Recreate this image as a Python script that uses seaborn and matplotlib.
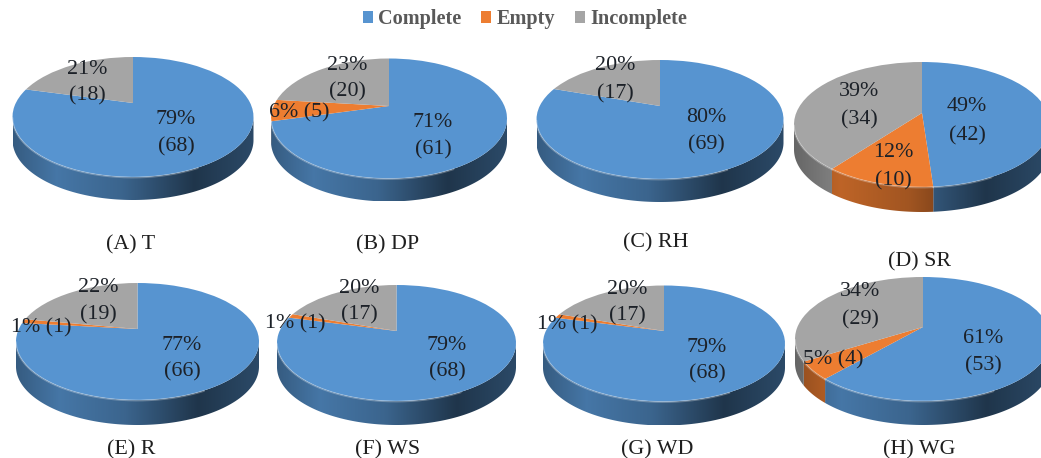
import numpy as np
import matplotlib
matplotlib.use("Agg")
import matplotlib.pyplot as plt
import matplotlib.transforms as mtransforms
from matplotlib.patches import Patch, Polygon
import seaborn as sns

# Counts of stations per data-quality class for each meteorological variable
status_labels = ["Complete", "Empty", "Incomplete"]
panel_names = ["(A) T", "(B) DP", "(C) RH", "(D) SR", "(E) R", "(F) WS", "(G) WD", "(H) WG"]
counts_t = [68, 0, 18]
counts_dp = [61, 5, 20]
counts_rh = [69, 0, 17]
counts_sr = [42, 10, 34]
counts_r = [66, 1, 19]
counts_ws = [68, 1, 17]
counts_wd = [68, 1, 17]
counts_wg = [53, 4, 29]
percents_t = [79, 0, 21]
percents_dp = [71, 6, 23]
percents_rh = [80, 0, 20]
percents_sr = [49, 12, 39]
percents_r = [77, 1, 22]
percents_ws = [79, 1, 20]
percents_wd = [79, 1, 20]
percents_wg = [61, 5, 34]

W_PX, H_PX = 1041, 458
SERIF = "Liberation Serif"
TEXT_DROP = 2.5
sns.set_theme(style="white")
plt.rcParams["font.family"] = [SERIF, "DejaVu Serif"]
palette = sns.color_palette(["#5794D0", "#ED7D31", "#A5A5A5"])


class Tilt(mtransforms.Transform):
    """Perspective view of a unit disc seen from above, in pixel offsets."""
    input_dims = 2
    output_dims = 2
    is_separable = False
    has_inverse = False

    def __init__(self, semi_w, semi_h, apex_rise):
        super().__init__()
        self.k = apex_rise / semi_h
        self.a = semi_w * np.sqrt(1 - self.k ** 2)
        self.b = semi_h
        self.c = apex_rise

    def transform_non_affine(self, xy):
        xy = np.asarray(xy, dtype=float)
        w = 1 + self.k * xy[..., 1]
        out = np.empty_like(xy)
        out[..., 0] = self.a * xy[..., 0] / w
        out[..., 1] = (self.b * xy[..., 1] + self.c) / w
        return out


def wall_shade(t):
    """Brightness of the pie's side wall across its width (t from 0 to 1)."""
    return np.interp(t, [0, 0.18, 0.45, 0.75, 1], [0.62, 0.80, 0.68, 0.36, 0.50])


def draw_pie(fig, counts, geom, texts, caption):
    cx, cy, semi_w, semi_h, rise, depth = geom
    box_w, box_h = 150, 110
    ax = fig.add_axes([(cx - box_w) / W_PX, (H_PX - cy - box_h) / H_PX,
                       2 * box_w / W_PX, 2 * box_h / H_PX])
    wedges, _ = ax.pie(counts, colors=palette, startangle=90, counterclock=False,
                       wedgeprops={"linewidth": 0, "zorder": 3})
    tilt = Tilt(semi_w, semi_h, rise)
    ramp = wall_shade(np.linspace(0, 1, 256))[None, :, None]

    for wedge, color in zip(wedges, palette):
        wedge.set_transform(tilt + ax.transData)
        if wedge.theta2 - wedge.theta1 <= 0:
            continue
        angles = np.radians(np.linspace(wedge.theta1, wedge.theta2, 400))
        rim = tilt.transform_non_affine(np.column_stack([np.cos(angles), np.sin(angles)]))
        front = rim[rim[:, 1] <= 0]
        if len(front) < 2:
            continue
        # Keep the front arc in order even when it wraps past the 3 o'clock point
        front = front[np.argsort(front[:, 0])]
        outline = np.vstack([front, (front - [0, depth])[::-1]])
        shell = Polygon(outline, closed=True, transform=ax.transData, facecolor="none", edgecolor="none")
        ax.add_patch(shell)
        image = ax.imshow(ramp * np.array(color)[None, None, :],
                          extent=(-semi_w, semi_w, -semi_h - depth, 0),
                          aspect="auto", interpolation="bilinear", zorder=2)
        image.set_clip_path(shell)
        fade = front[front[:, 0] < 0.55 * semi_w]
        if len(fade) > 1:
            ax.plot(fade[:, 0], fade[:, 1] - 0.5, color="white", alpha=0.28, lw=1.3, zorder=4)

    ax.set_aspect("auto")
    ax.set_xlim(-box_w, box_w)
    ax.set_ylim(-box_h, box_h)

    for text, px, py in texts:
        ax.text(px - cx, cy - py - TEXT_DROP, text, ha="center", va="center", fontsize=15.8,
                color="#1c2128", zorder=6)
    ax.text(caption[1] - cx, cy - caption[2] - TEXT_DROP, caption[0], ha="center", va="center",
            fontsize=15.8, color="#1f1f1f")


fig = plt.figure(figsize=(W_PX / 100, H_PX / 100), dpi=100, facecolor="white")

# centre x, centre y, half width, half height, apex rise, wall depth
panels = [
    (counts_t, percents_t, (133, 117, 120.5, 60, 14, 23),
     [((87, 67), (87, 93), 2), ((176, 117), (176, 144), 0)], (131, 242)),
    (counts_dp, percents_dp, (389, 118.5, 118, 60, 12.5, 23),
     [((347, 63), (347, 89), 2), ((299, 110), None, 1), ((433, 120), (433, 147), 0)], (388, 242)),
    (counts_rh, percents_rh, (660, 119.5, 123.5, 59.5, 13.5, 23),
     [((615, 63), (615, 91), 2), ((706, 115), (706, 142), 0)], (656, 240)),
    (counts_sr, percents_sr, (922, 124.5, 128, 62.5, 11.5, 25),
     [((859, 89), (859, 117), 2), ((893, 150), (893, 178), 1), ((967, 104), (967, 133), 0)], (919, 259)),
    (counts_r, percents_r, (137.5, 341.5, 121.5, 58.5, 12.5, 25),
     [((98, 285), (98, 312), 2), ((41, 325), None, 1), ((182, 343), (182, 369), 0)], (131, 447)),
    (counts_ws, percents_ws, (396.5, 343, 119.5, 58, 12, 24),
     [((359, 286), (359, 312), 2), ((295, 321), None, 1), ((447, 343), (447, 369), 0)], (388, 447)),
    (counts_wd, percents_wd, (664, 343.5, 121, 58, 12.5, 24),
     [((627, 287), (627, 313), 2), ((567, 322), None, 1), ((707, 345), (707, 371), 0)], (657, 447)),
    (counts_wg, percents_wg, (923, 339, 128, 62, 12, 24),
     [((860, 289), (860, 317), 2), ((833, 357), None, 1), ((983, 336), (983, 363), 0)], (919, 447)),
]

for name, (counts, percents, geom, slots, cap) in zip(panel_names, panels):
    texts = []
    for first, second, idx in slots:
        if second is None:
            texts.append((f"{percents[idx]}% ({counts[idx]})", first[0], first[1]))
        else:
            texts.append((f"{percents[idx]}%", first[0], first[1]))
            texts.append((f"({counts[idx]})", second[0], second[1]))
    draw_pie(fig, counts, geom, texts, (name, cap[0], cap[1]))

handles = [Patch(facecolor=c, edgecolor="none", label=l) for c, l in zip(palette, status_labels)]
fig.legend(handles=handles, loc="center", bbox_to_anchor=(525 / W_PX, 1 - 19 / H_PX), ncol=3,
           frameon=False, prop={"family": SERIF, "weight": "bold", "size": 14.6},
           labelcolor="#595959", handlelength=0.5, handleheight=0.5, handletextpad=0.25,
           columnspacing=1.0, borderpad=0, borderaxespad=0)

fig.savefig("out.png", dpi=100, facecolor="white")
